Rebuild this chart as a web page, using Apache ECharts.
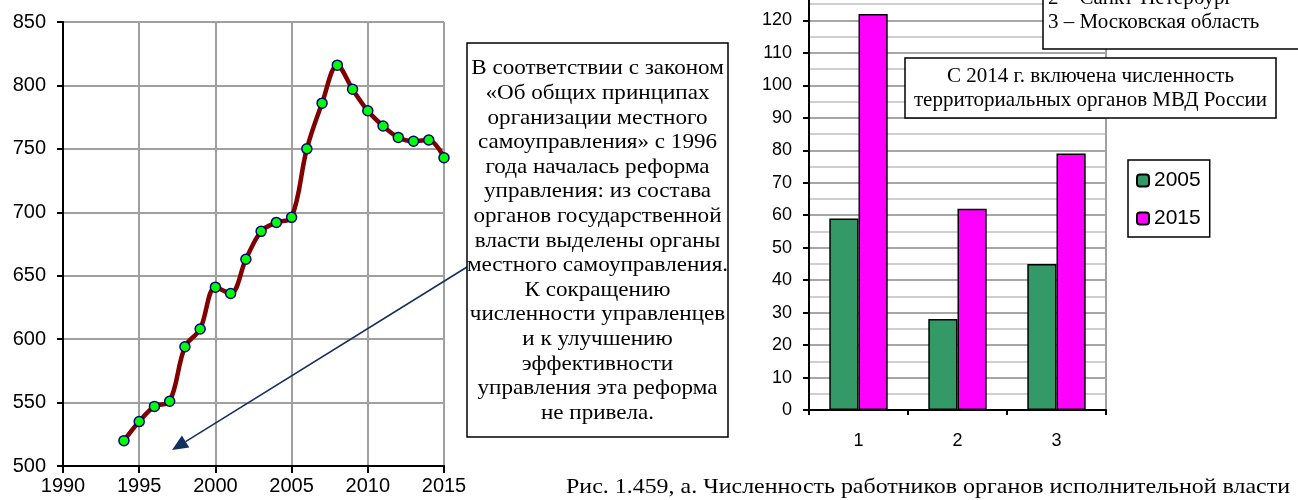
<!DOCTYPE html>
<html>
<head>
<meta charset="utf-8">
<script src="https://cdn.jsdelivr.net/npm/echarts@6/dist/echarts.min.js"></script>
<style>
  html, body { margin: 0; padding: 0; background: #fff; }
  #chart { width: 1298px; height: 500px; }
</style>
</head>
<body>
<div id="chart"></div>
<script>
// left chart: staff numbers by year
var years = [1994, 1995, 1996, 1997, 1998, 1999, 2000, 2001, 2002, 2003, 2004,
             2005, 2006, 2007, 2008, 2009, 2010, 2011, 2012, 2013, 2014, 2015];
var staff = [520, 535, 547, 551, 594, 608, 641, 636, 663, 685, 692,
             696, 750, 786, 816, 797, 780, 768, 759, 756, 757, 743];

// right chart: regions 1..3, two years
var regions = ['1', '2', '3'];
var v2005 = [59, 28, 45];
var v2015 = [122, 62, 79];

var noteLines = [
  'В соответствии с законом',
  '«Об общих принципах',
  'организации местного',
  'самоуправления» с 1996',
  'года началась реформа',
  'управления: из состава',
  'органов государственной',
  'власти выделены органы',
  'местного самоуправления.',
  'К сокращению',
  'численности управленцев',
  'и к улучшению',
  'эффективности',
  'управления эта реформа',
  'не привела.'
];
var mvdLines = ['С 2014 г. включена численность', 'территориальных органов МВД России'];
var regionLines = ['1 – Москва', '2 – Санкт-Петербург', '3 – Московская область'];
var caption = 'Рис. 1.459, а. Численность работников органов исполнительной власти';

var sans = '"Liberation Sans", Arial, sans-serif';
var serif = '"Liberation Serif", "Times New Roman", serif';

var lineData = [];
for (var i = 0; i < years.length; i++) {
  lineData.push([years[i], staff[i]]);
}

// arrow from the note box to the lower left
var arrowFrom = [467, 267], arrowTo = [172, 450];
var dx = arrowTo[0] - arrowFrom[0], dy = arrowTo[1] - arrowFrom[1];
var len = Math.sqrt(dx * dx + dy * dy);
var ux = dx / len, uy = dy / len;
var headLen = 16, headHalf = 7;
var bx = arrowTo[0] - ux * headLen, by = arrowTo[1] - uy * headLen;
var head = [
  [arrowTo[0], arrowTo[1]],
  [bx - uy * headHalf, by + ux * headHalf],
  [bx + uy * headHalf, by - ux * headHalf]
];
var navy = '#14305f';

var plain = function (v) { return String(v); };

var chart = echarts.init(document.getElementById('chart'));
var option = {
  backgroundColor: '#fff',
  animation: false,
  grid: [
    { left: 63, top: 22, width: 381, height: 444, outerBoundsMode: 'none' },
    { left: 809, top: -12, width: 297, height: 422, outerBoundsMode: 'none' }
  ],
  legend: {
    data: ['2005', '2015'],
    orient: 'vertical',
    left: 1128,
    top: 160,
    padding: [10, 9, 8, 8],
    itemWidth: 12,
    itemHeight: 12,
    itemGap: 17,
    borderColor: '#000',
    borderWidth: 1.5,
    backgroundColor: '#fff',
    textStyle: { fontFamily: sans, fontSize: 21, color: '#000' }
  },
  xAxis: [
    {
      gridIndex: 0, type: 'value', min: 1990, max: 2015, interval: 5,
      axisLine: { lineStyle: { color: '#000', width: 2 } },
      axisTick: { show: true, length: 7, lineStyle: { color: '#000', width: 2 } },
      axisLabel: { fontFamily: sans, fontSize: 20, color: '#000', margin: 10, formatter: plain },
      splitLine: { show: true, lineStyle: { color: '#a0a0a0', width: 2 } }
    },
    {
      gridIndex: 1, type: 'category', data: regions,
      axisLine: { lineStyle: { color: '#000', width: 2 } },
      axisTick: { show: true, length: 5, lineStyle: { color: '#000', width: 2 } },
      axisLabel: { fontFamily: sans, fontSize: 18, color: '#000', margin: 22 },
      splitLine: { show: false }
    }
  ],
  yAxis: [
    {
      gridIndex: 0, type: 'value', min: 500, max: 850, interval: 50,
      axisLine: { show: true, lineStyle: { color: '#000', width: 2 } },
      axisTick: { show: true, length: 6, lineStyle: { color: '#000', width: 2 } },
      axisLabel: { fontFamily: sans, fontSize: 20, color: '#000', margin: 17, formatter: plain },
      splitLine: { show: true, lineStyle: { color: '#a0a0a0', width: 2 } }
    },
    {
      gridIndex: 1, type: 'value', min: 0, max: 130, interval: 10,
      axisLine: { show: true, lineStyle: { color: '#000', width: 2 } },
      axisTick: { show: true, length: 6, lineStyle: { color: '#000', width: 2 } },
      axisLabel: { fontFamily: sans, fontSize: 18, color: '#000', margin: 17 },
      splitLine: { show: true, lineStyle: { color: '#a6a6a6', width: 2 } },
      minorTick: { show: false, splitNumber: 2 },
      minorSplitLine: { show: true, lineStyle: { color: '#cfcfcf', width: 2 } }
    },
    {
      // right border of the bar plot
      gridIndex: 1, type: 'value', min: 0, max: 130, position: 'right',
      axisLine: { show: true, lineStyle: { color: '#a0a0a0', width: 2 } },
      axisTick: { show: false }, axisLabel: { show: false }, splitLine: { show: false }
    }
  ],
  series: [
    {
      type: 'line', xAxisIndex: 0, yAxisIndex: 0, data: lineData,
      smooth: 0.35,
      lineStyle: { color: '#800000', width: 4.5 },
      symbol: 'circle', symbolSize: 10,
      itemStyle: { color: '#00ff00', borderColor: '#000080', borderWidth: 1.5 },
      z: 3
    },
    {
      name: '2005', type: 'bar', xAxisIndex: 1, yAxisIndex: 1, data: v2005,
      barGap: 0, barCategoryGap: '41%',
      itemStyle: { color: '#339966', borderColor: '#000', borderWidth: 1.5 }
    },
    {
      name: '2015', type: 'bar', xAxisIndex: 1, yAxisIndex: 1, data: v2015,
      barGap: 0, barCategoryGap: '41%',
      itemStyle: { color: '#ff00ff', borderColor: '#000', borderWidth: 1.5 }
    }
  ],
  graphic: [
    {
      type: 'line', z: 100,
      shape: { x1: arrowFrom[0], y1: arrowFrom[1], x2: bx, y2: by },
      style: { stroke: navy, lineWidth: 1.6 }
    },
    {
      type: 'polygon', z: 100,
      shape: { points: head },
      style: { fill: navy }
    },
    {
      type: 'rect', z: 100,
      shape: { x: 467, y: 43, width: 261, height: 394 },
      style: { fill: '#fff', stroke: '#000', lineWidth: 1.5 }
    },
    {
      type: 'text', z: 101, x: 597.5, y: 56.5, scaleX: 1.1,
      style: {
        text: noteLines.join('\n'), font: '21px ' + serif, fill: '#000',
        lineHeight: 24.6, align: 'center', verticalAlign: 'top'
      }
    },
    {
      type: 'rect', z: 100,
      shape: { x: 905, y: 58, width: 371, height: 60 },
      style: { fill: '#fff', stroke: '#000', lineWidth: 1.5 }
    },
    {
      type: 'text', z: 101, x: 1090.5, y: 64,
      style: {
        text: mvdLines.join('\n'), font: '21px ' + serif, fill: '#000',
        lineHeight: 24, align: 'center', verticalAlign: 'top'
      }
    },
    {
      type: 'rect', z: 100,
      shape: { x: 1043, y: -40, width: 290, height: 89 },
      style: { fill: '#fff', stroke: '#000', lineWidth: 1.5 }
    },
    {
      type: 'text', z: 101, x: 1048, y: -38.5,
      style: {
        text: regionLines.join('\n'), font: '21px ' + serif, fill: '#000',
        lineHeight: 24.5, align: 'left', verticalAlign: 'top'
      }
    },
    {
      type: 'text', z: 101, x: 566, y: 487, scaleX: 1.14,
      style: {
        text: caption, font: '21px ' + serif, fill: '#000',
        align: 'left', verticalAlign: 'middle'
      }
    }
  ]
};
chart.setOption(option);
</script>
</body>
</html>
